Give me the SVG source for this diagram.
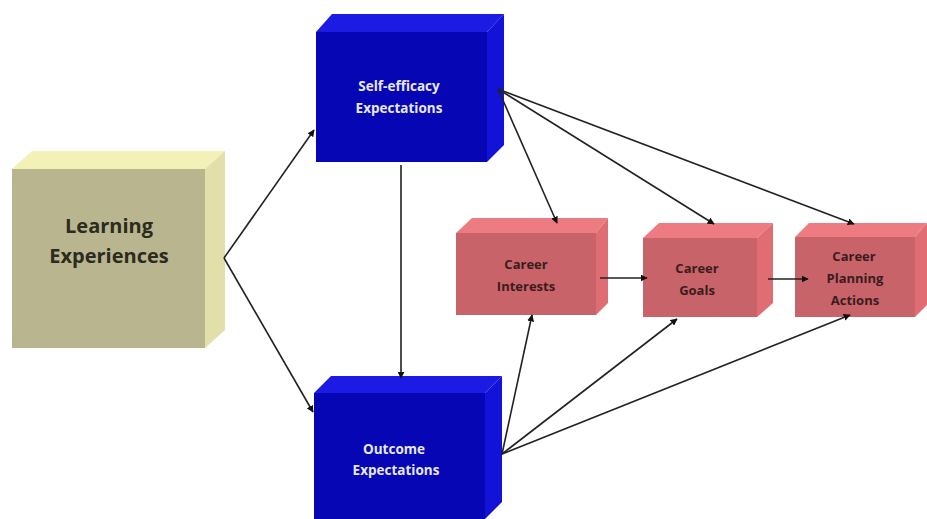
<svg xmlns="http://www.w3.org/2000/svg" width="927" height="519" viewBox="0 0 927 519">
<defs>
<style>
.le-front{fill:#B9B58E}
.le-top{fill:#F4F1B8}
.le-side{fill:#E2DFAA}
.b-front{fill:#0606B4}
.b-top{fill:#1B1BE4}
.b-side{fill:#1212D8}
.c-front{fill:#C8636A}
.c-top{fill:#EC7C82}
.c-side{fill:#E06D74}
.t-dark{font-family:"Open Sans","Liberation Sans",sans-serif;font-weight:bold;fill:#2b2b20;text-anchor:middle}
.t-white{font-family:"Open Sans","Liberation Sans",sans-serif;font-weight:bold;fill:#E8E8F4;text-anchor:middle;font-size:13.5px}
.t-career{font-family:"Open Sans","Liberation Sans",sans-serif;font-weight:bold;fill:#3a1c1c;text-anchor:middle;font-size:13px}
.conn line{stroke:#222;stroke-width:1.6;fill:none}
</style>
<marker id="ah" viewBox="0 0 10 10" refX="9" refY="5" markerWidth="7" markerHeight="7" orient="auto" markerUnits="userSpaceOnUse">
<path d="M0,0 L10,5 L0,10 Z" fill="#111"/>
</marker>
</defs>
<rect width="927" height="519" fill="#fff"/>

<g id="learning">
<polygon class="le-top" points="12,169 32,151 225,151 205,169"/>
<polygon class="le-side" points="205,169 225,151 225,330 205,348"/>
<rect class="le-front" x="12" y="169" width="193" height="179"/>
<text class="t-dark" font-size="20" x="109" y="233">Learning</text>
<text class="t-dark" font-size="20" x="109" y="263">Experiences</text>
</g>

<g id="self-efficacy">
<polygon class="b-top" points="316,32 332,14 504,14 487,32"/>
<polygon class="b-side" points="487,32 504,14 504,145 487,162"/>
<rect class="b-front" x="316" y="32" width="171" height="130"/>
<text class="t-white" x="399" y="91">Self-efficacy</text>
<text class="t-white" x="399" y="113">Expectations</text>
</g>

<g id="outcome">
<polygon class="b-top" points="314,393 331,376 502,376 485,393"/>
<polygon class="b-side" points="485,393 502,376 502,502 485,519"/>
<rect class="b-front" x="314" y="393" width="171" height="126"/>
<text class="t-white" x="394" y="454">Outcome</text>
<text class="t-white" x="396" y="475">Expectations</text>
</g>

<g id="interests">
<polygon class="c-top" points="456,233 472,218 608,218 596,233"/>
<polygon class="c-side" points="596,233 608,218 608,303 596,315"/>
<rect class="c-front" x="456" y="233" width="140" height="82"/>
<text class="t-career" x="526" y="269">Career</text>
<text class="t-career" x="526" y="291">Interests</text>
</g>

<g id="goals">
<polygon class="c-top" points="643,238 659,223 773,223 757,238"/>
<polygon class="c-side" points="757,238 773,223 773,303 757,317"/>
<rect class="c-front" x="643" y="238" width="114" height="79"/>
<text class="t-career" x="697" y="273">Career</text>
<text class="t-career" x="697" y="295">Goals</text>
</g>

<g id="planning">
<polygon class="c-top" points="795,237 809,223 927,223 915,237"/>
<polygon class="c-side" points="915,237 927,223 927,305 915,317"/>
<rect class="c-front" x="795" y="237" width="120" height="80"/>
<text class="t-career" x="854" y="261">Career</text>
<text class="t-career" x="855" y="283">Planning</text>
<text class="t-career" x="855" y="305">Actions</text>
</g>

<g id="connectors" class="conn">
<line x1="224" y1="258" x2="314" y2="130" marker-end="url(#ah)"/>
<line x1="224" y1="258" x2="313" y2="412" marker-end="url(#ah)"/>
<line x1="401" y1="165" x2="401" y2="378" marker-end="url(#ah)"/>
<line x1="498" y1="89" x2="557" y2="223" marker-end="url(#ah)"/>
<line x1="498" y1="89" x2="714" y2="224" marker-end="url(#ah)"/>
<line x1="498" y1="89" x2="854" y2="224" marker-end="url(#ah)"/>
<line x1="600" y1="278" x2="647" y2="278" marker-end="url(#ah)"/>
<line x1="768" y1="279" x2="808" y2="279" marker-end="url(#ah)"/>
<line x1="502" y1="454" x2="532" y2="315" marker-end="url(#ah)"/>
<line x1="502" y1="454" x2="677" y2="319" marker-end="url(#ah)"/>
<line x1="502" y1="454" x2="850" y2="315" marker-end="url(#ah)"/>
</g>
</svg>
